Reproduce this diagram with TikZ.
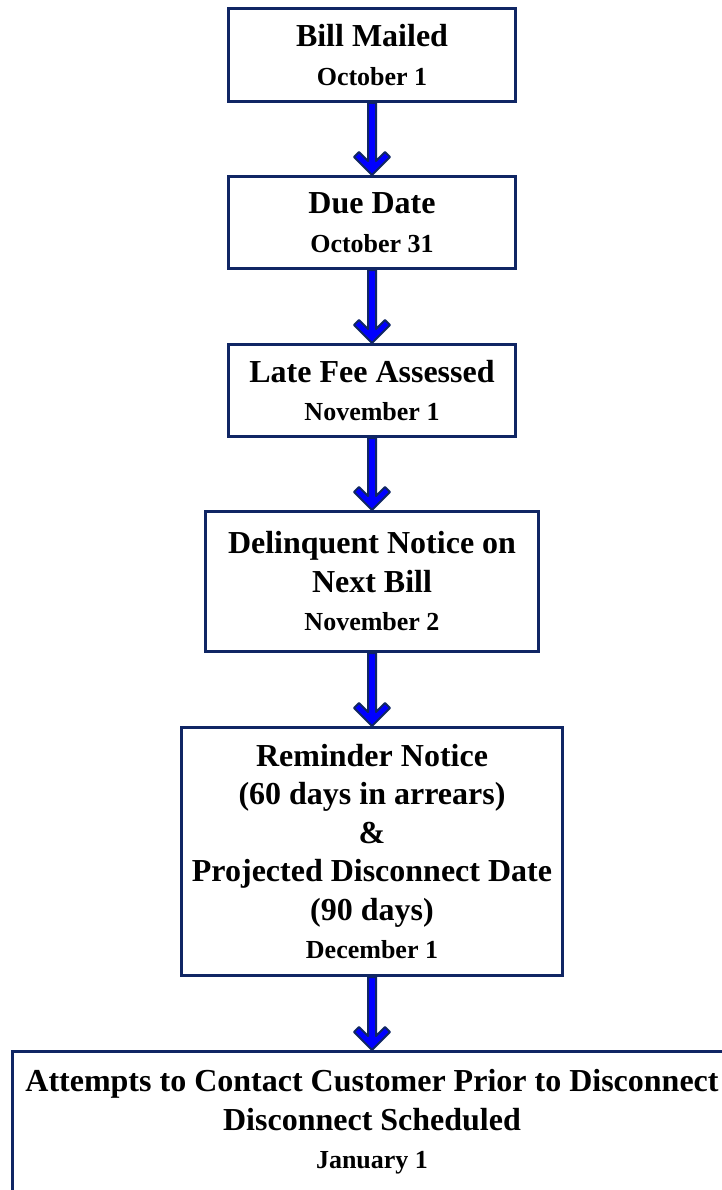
\documentclass[tikz,border=0pt]{standalone}
\usepackage{fontspec}
\setmainfont{Liberation Serif}
\usetikzlibrary{calc}
\definecolor{boxnavy}{RGB}{16,38,100}
\definecolor{arrblue}{RGB}{0,0,255}
\newcommand\titlefont{\fontsize{32}{38.5}\selectfont\bfseries}
\newcommand\datefont{\fontsize{26}{38.5}\selectfont\bfseries}
\newcommand\flowarrow[2]{%
  \draw[flowarr] let \p1=(#2.north), \p2=(#1.south) in
    (\x1,\y1) -- (\x1-18pt,\y1+18pt) -- (\x1-13pt,\y1+23pt) -- (\x1-4pt,\y1+14pt)
    -- (\x1-4pt,\y2) -- (\x1+4pt,\y2) -- (\x1+4pt,\y1+14pt) -- (\x1+13pt,\y1+23pt)
    -- (\x1+18pt,\y1+18pt) -- cycle;}
\begin{document}
\begin{tikzpicture}[x=1pt,y=-1pt,
  stagebox/.style={draw=boxnavy,line width=3pt,fill=white,rectangle,inner sep=0pt,
    align=center,font=\titlefont,text=black},
  flowarr/.style={draw=boxnavy,fill=arrblue,line width=2pt,line join=round}]
\useasboundingbox (0,0) rectangle (722,1190);
\clip (0,0) rectangle (722,1190);
\fill[white] (0,0) rectangle (722,1190);

\node[stagebox,minimum width=287pt,minimum height=93pt] (b1) at (372,55)
  {Bill Mailed\\{\datefont October 1}};
\node[stagebox,minimum width=287pt,minimum height=92pt] (b2) at (372,222.5)
  {Due Date\\{\datefont October 31}};
\node[stagebox,minimum width=287pt,minimum height=92pt] (b3) at (372,390.5)
  {Late Fee Assessed\\{\datefont November 1}};
\node[stagebox,minimum width=333pt,minimum height=140pt] (b4) at (372,581.5)
  {Delinquent Notice on\\Next Bill\\{\datefont November 2}};
\node[stagebox,minimum width=381pt,minimum height=248pt] (b5) at (372,851.5)
  {Reminder Notice\\(60 days in arrears)\\\&\\Projected Disconnect Date\\(90 days)\\{\datefont December 1}};
\node[stagebox,minimum width=720pt,minimum height=141pt] (b6) at (372,1122)
  {Attempts to Contact Customer Prior to Disconnect\\Disconnect Scheduled\\{\datefont January 1}};

\flowarrow{b1}{b2}
\flowarrow{b2}{b3}
\flowarrow{b3}{b4}
\flowarrow{b4}{b5}
\flowarrow{b5}{b6}
\end{tikzpicture}
\end{document}
